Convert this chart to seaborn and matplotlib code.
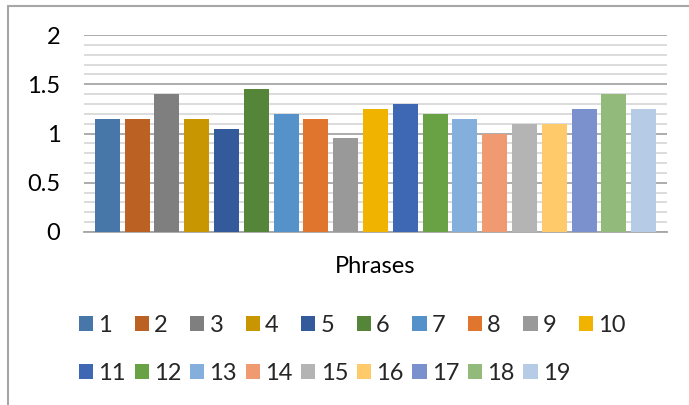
import pandas as pd
import matplotlib
matplotlib.use("Agg")
import matplotlib.pyplot as plt
from matplotlib.ticker import MultipleLocator, FuncFormatter
import seaborn as sns

# data
series = [str(i) for i in range(1, 20)]
values = [1.15, 1.15, 1.4, 1.15, 1.05, 1.45, 1.2, 1.15, 0.95, 1.25,
          1.3, 1.2, 1.15, 1.0, 1.1, 1.1, 1.25, 1.4, 1.25]
category = "Phrases"
colors = ["#4677A8", "#BC6124", "#7F7F7F", "#C89600", "#335A9A", "#548538",
          "#5592CA", "#E0752D", "#999999", "#F0B400", "#3E68B4", "#68A245",
          "#84AEDC", "#F09A72", "#B4B4B4", "#FFCA6A", "#7A91CE", "#92BA7A",
          "#B6CCE6"]

df = pd.DataFrame({"cat": [category] * len(series), "series": series, "value": values})

sns.set_style("white")
plt.rcParams["font.family"] = ["Lato", "DejaVu Sans"]
FS = 17

fig = plt.figure(figsize=(6.89, 4.05), dpi=100)
ax = fig.add_axes([84 / 689, 1 - 232 / 405, (667 - 84) / 689, (232 - 35) / 405])

sns.barplot(data=df, x="cat", y="value", hue="series", hue_order=series,
            palette=colors, width=0.971, gap=0.16, saturation=1,
            errorbar=None, ax=ax, zorder=3, linewidth=0, edgecolor="none")

ax.set_ylim(0, 2)
ax.set_xlim(-0.5, 0.5)
ax.yaxis.set_major_locator(MultipleLocator(0.5))
ax.yaxis.set_minor_locator(MultipleLocator(0.1))
ax.yaxis.set_major_formatter(FuncFormatter(lambda v, p: f"{v:g}"))
ax.grid(axis="y", which="major", color="#A6A6A6", linewidth=1.3, zorder=0)
ax.grid(axis="y", which="minor", color="#D9D9D9", linewidth=1.3, zorder=0)
ax.set_axisbelow(True)
for s in ["left", "right", "top"]:
    ax.spines[s].set_visible(False)
ax.spines["bottom"].set_color("#A6A6A6")
ax.spines["bottom"].set_linewidth(1.3)
ax.tick_params(axis="both", which="both", length=0, labelsize=FS, colors="#000000")
ax.tick_params(axis="y", pad=17)
ax.tick_params(axis="x", pad=17)
ax.set_xlabel("")
ax.set_ylabel("")

handles, labels = ax.get_legend_handles_labels()
ax.get_legend().remove()
# row-major order for 10 columns
order = []
for c in range(10):
    order.append(c)
    if c + 10 < len(handles):
        order.append(c + 10)
fig.legend([handles[i] for i in order], [labels[i] for i in order],
           ncol=10, loc="upper left", bbox_to_anchor=(79 / 689, 1 - 315 / 405),
           frameon=False, fontsize=FS, handlelength=0.6, handleheight=0.6,
           handletextpad=0.22, columnspacing=0.37, labelspacing=1.15,
           borderpad=0, borderaxespad=0)

# chart frame (left and top edges visible)
fig.add_artist(plt.Line2D([8 / 689, 8 / 689], [0, 1 - 6 / 405],
                          transform=fig.transFigure, color="#A6A6A6", linewidth=1.5))
fig.add_artist(plt.Line2D([8 / 689, 1], [1 - 6 / 405, 1 - 6 / 405],
                          transform=fig.transFigure, color="#A6A6A6", linewidth=1.5))

fig.savefig("out.png", dpi=100)
